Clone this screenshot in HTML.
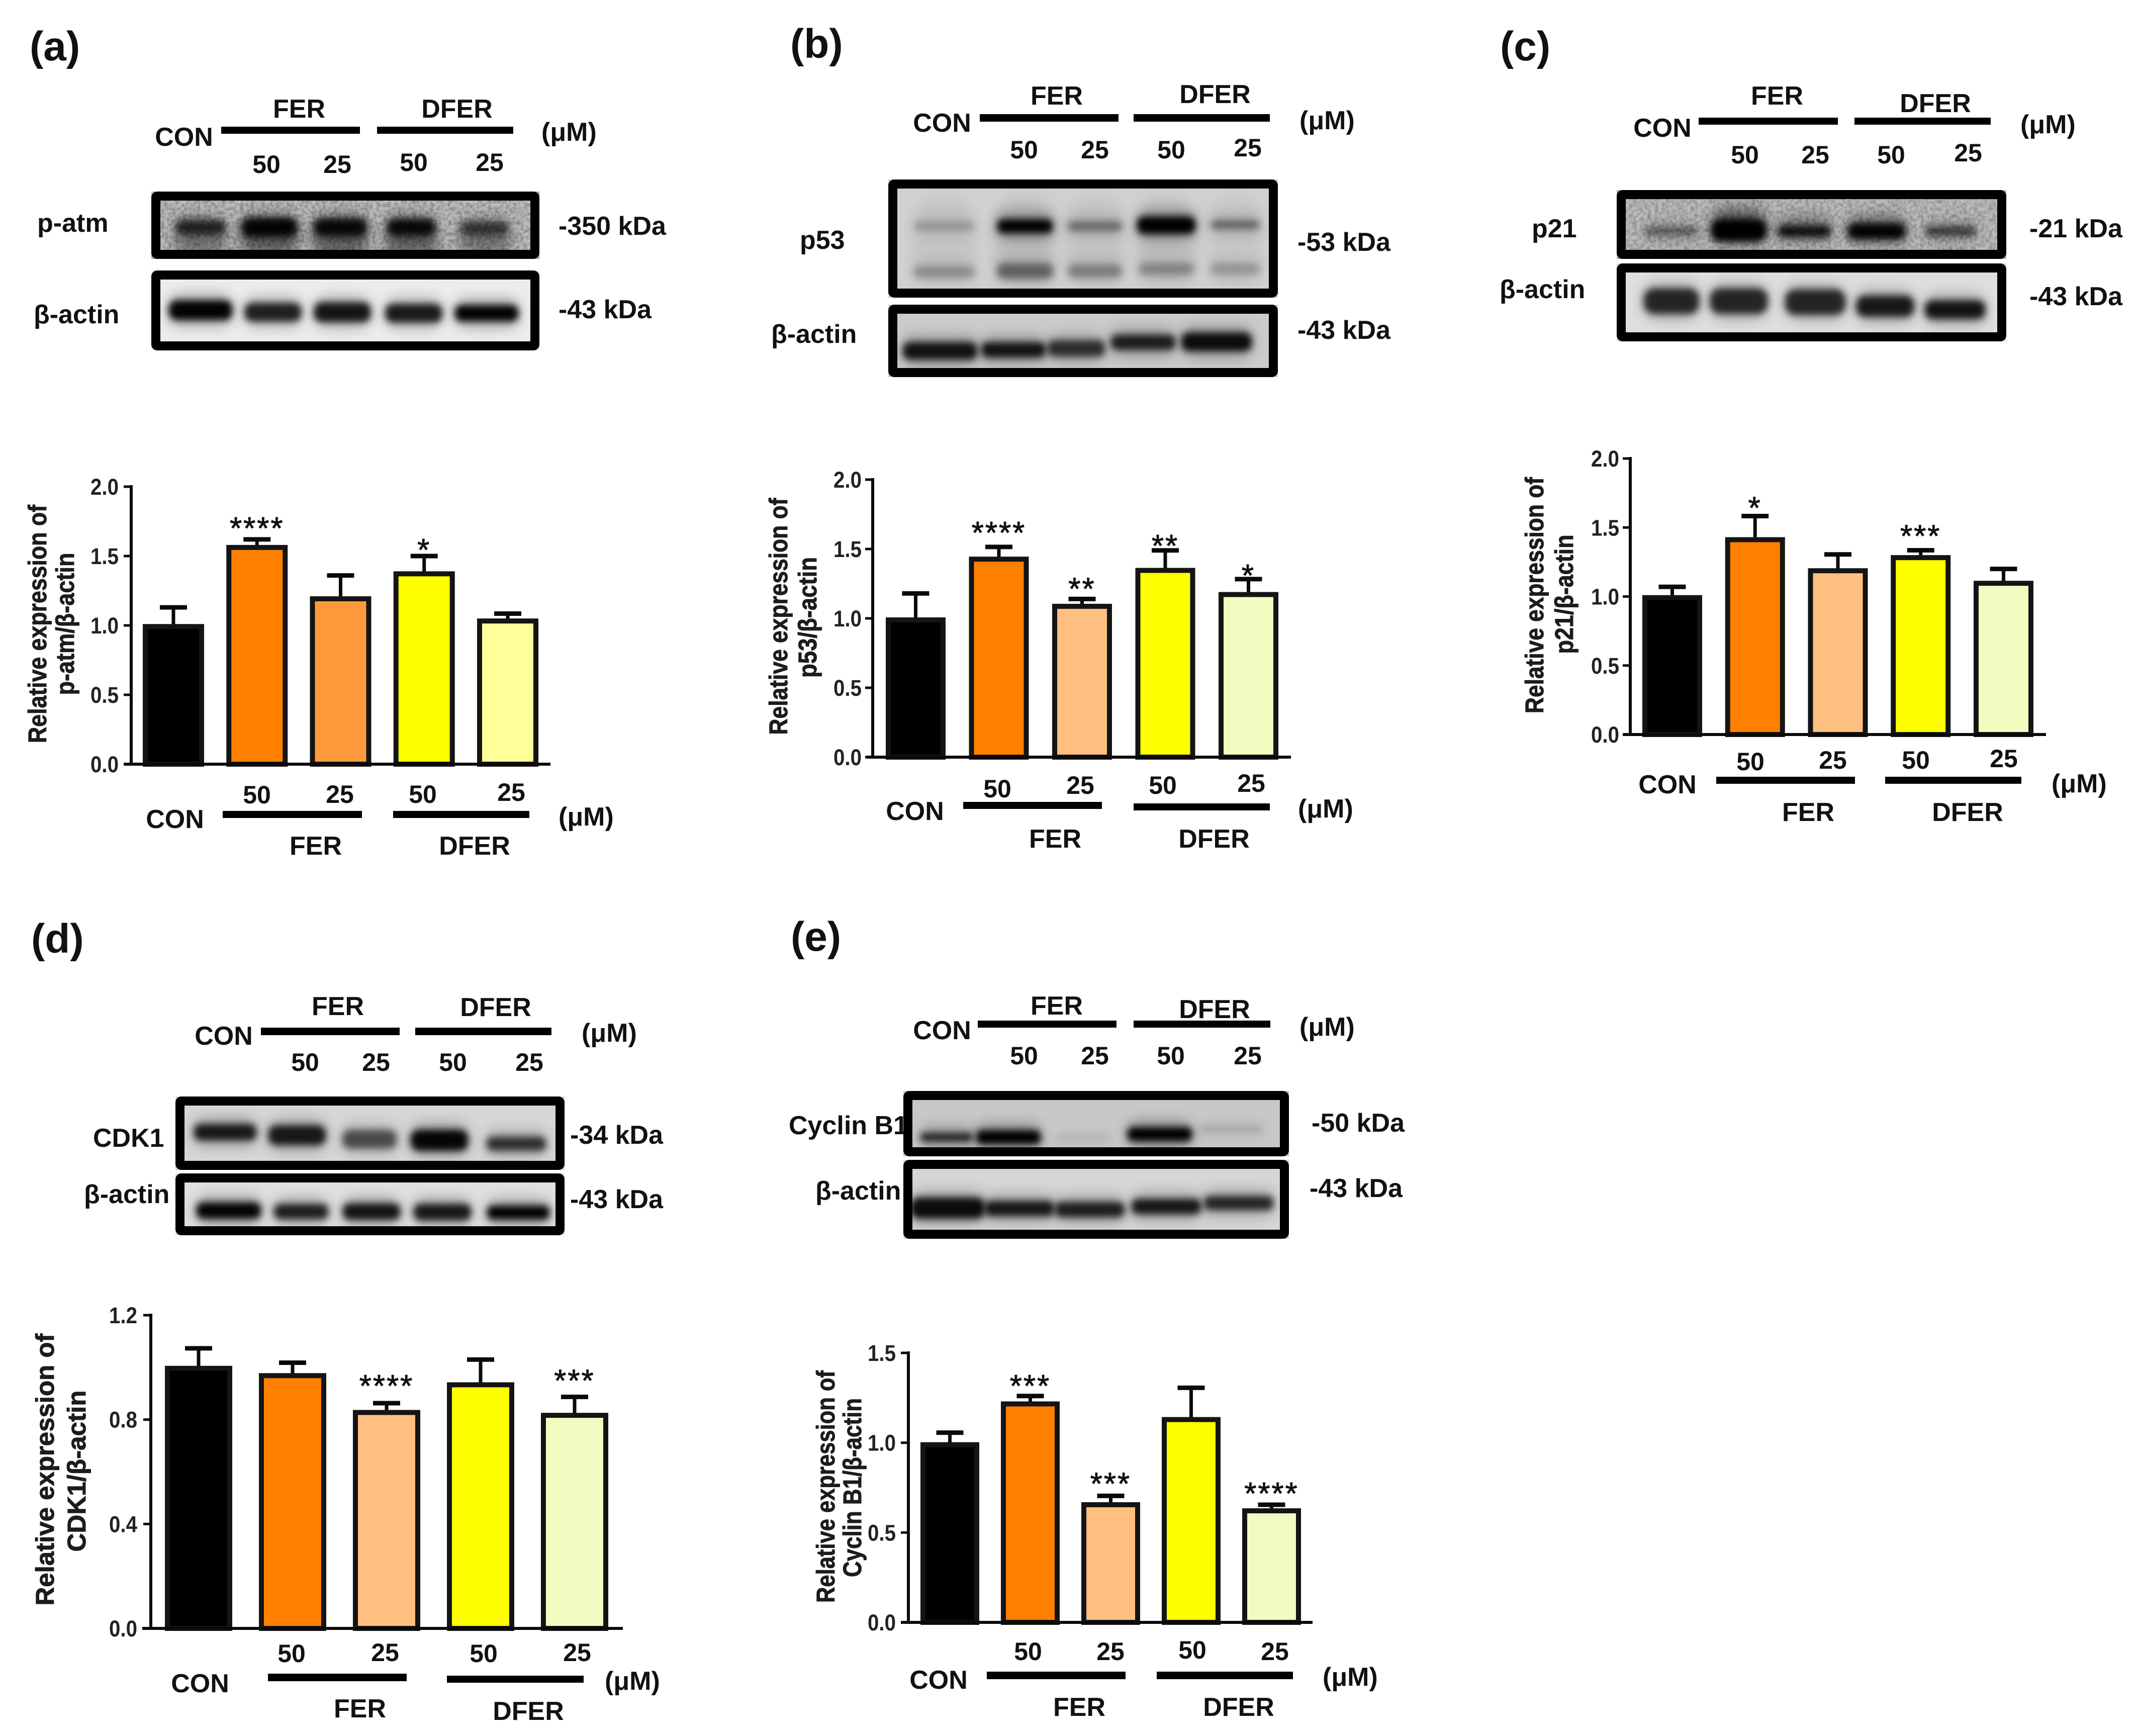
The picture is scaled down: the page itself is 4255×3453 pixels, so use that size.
<!DOCTYPE html>
<html lang="en">
<head>
<meta charset="utf-8">
<title>Western blot panels and relative expression bar charts</title>
<style>
html,body{margin:0;padding:0;background:#fff;}
body{width:4255px;height:3453px;overflow:hidden;position:relative;}
svg#figure{position:absolute;left:0;top:0;}
text{font-family:"Liberation Sans",sans-serif;font-weight:bold;fill:#111;}
.p{font-size:82px;}
.l{font-size:52px;}
.n{font-size:50px;text-anchor:middle;}
.c{text-anchor:middle;}
.t{font-size:51px;text-anchor:middle;fill:#1c1c1c;stroke:#1c1c1c;stroke-width:1px;}
.hb{fill:#000;}
</style>
</head>
<body>
<svg id="figure" xmlns="http://www.w3.org/2000/svg" width="4255" height="3453" viewBox="1 2 4255 3453">
<defs>
<filter id="bl" x="-30%" y="-150%" width="160%" height="400%"><feGaussianBlur stdDeviation="7"/></filter>
<filter id="smear" x="-30%" y="-60%" width="160%" height="220%"><feGaussianBlur stdDeviation="13"/></filter>
<filter id="grain" x="0" y="0" width="100%" height="100%"><feTurbulence type="fractalNoise" baseFrequency="0.14" numOctaves="2" seed="4"/><feColorMatrix type="matrix" values="0 0 0 0 0  0 0 0 0 0  0 0 0 0 0  1.3 0 0 0 -0.45"/></filter>
</defs>
<rect x="0" y="0" width="4270" height="3470" fill="#fff"/>

<!-- Panel a -->
<g>
<text class="p" x="60" y="122">(a)</text>
<text class="l c" x="596" y="236">FER</text>
<text class="l c" x="910" y="236">DFER</text>
<text class="l c" x="367" y="292">CON</text>
<rect class="hb" x="441" y="254" width="276" height="14"/>
<rect class="hb" x="751" y="254" width="271" height="14"/>
<text class="l" x="1078" y="282">(μM)</text>
<text class="n" x="531" y="346">50</text>
<text class="n" x="672" y="346">25</text>
<text class="n" x="824" y="342">50</text>
<text class="n" x="975" y="342">25</text>
<text class="l" x="75" y="463">p-atm</text>
<text class="l" x="68" y="645">β-actin</text>
<text class="l" x="1112" y="469">-350 kDa</text>
<text class="l" x="1112" y="635">-43 kDa</text>
<text class="n" x="512" y="1600">50</text>
<text class="n" x="677" y="1599">25</text>
<text class="n" x="842" y="1599">50</text>
<text class="n" x="1018" y="1595">25</text>
<text class="l c" x="349" y="1649">CON</text>
<rect class="hb" x="444" y="1615" width="277" height="14"/>
<rect class="hb" x="783" y="1615" width="271" height="14"/>
<text class="l" x="1112" y="1644">(μM)</text>
<text class="l c" x="629" y="1702">FER</text>
<text class="l c" x="945" y="1702">DFER</text>
<text class="t" transform="translate(93,1243) rotate(-90)" textLength="474" lengthAdjust="spacingAndGlyphs">Relative expression of</text>
<text class="t" transform="translate(148,1243) rotate(-90)" textLength="283" lengthAdjust="spacingAndGlyphs">p-atm/β-actin</text>
</g>

<!-- Panel b -->
<g>
<text class="p" x="1573" y="117">(b)</text>
<text class="l c" x="2103" y="210">FER</text>
<text class="l c" x="2418" y="207">DFER</text>
<text class="l c" x="1875" y="264">CON</text>
<rect class="hb" x="1950" y="229" width="276" height="15"/>
<rect class="hb" x="2256" y="229" width="271" height="15"/>
<text class="l" x="2586" y="259">(μM)</text>
<text class="n" x="2038" y="317">50</text>
<text class="n" x="2179" y="317">25</text>
<text class="n" x="2331" y="317">50</text>
<text class="n" x="2483" y="313">25</text>
<text class="l" x="1592" y="497">p53</text>
<text class="l" x="1535" y="684">β-actin</text>
<text class="l" x="2582" y="501">-53 kDa</text>
<text class="l" x="2582" y="676">-43 kDa</text>
<text class="n" x="1985" y="1588">50</text>
<text class="n" x="2150" y="1581">25</text>
<text class="n" x="2314" y="1581">50</text>
<text class="n" x="2490" y="1577">25</text>
<text class="l c" x="1821" y="1633">CON</text>
<rect class="hb" x="1917" y="1597" width="276" height="14"/>
<rect class="hb" x="2256" y="1600" width="271" height="14"/>
<text class="l" x="2583" y="1628">(μM)</text>
<text class="l c" x="2100" y="1688">FER</text>
<text class="l c" x="2416" y="1688">DFER</text>
<text class="t" transform="translate(1567,1228) rotate(-90)" textLength="471" lengthAdjust="spacingAndGlyphs">Relative expression of</text>
<text class="t" transform="translate(1625,1230) rotate(-90)" textLength="240" lengthAdjust="spacingAndGlyphs">p53/β-actin</text>
</g>

<!-- Panel c -->
<g>
<text class="p" x="2985" y="122">(c)</text>
<text class="l c" x="3536" y="210">FER</text>
<text class="l c" x="3851" y="225">DFER</text>
<text class="l c" x="3308" y="274">CON</text>
<rect class="hb" x="3380" y="236" width="277" height="14"/>
<rect class="hb" x="3690" y="236" width="271" height="14"/>
<text class="l" x="4020" y="267">(μM)</text>
<text class="n" x="3472" y="327">50</text>
<text class="n" x="3612" y="327">25</text>
<text class="n" x="3763" y="327">50</text>
<text class="n" x="3916" y="323">25</text>
<text class="l" x="3048" y="474">p21</text>
<text class="l" x="2984" y="595">β-actin</text>
<text class="l" x="4038" y="474">-21 kDa</text>
<text class="l" x="4038" y="609">-43 kDa</text>
<text class="n" x="3483" y="1534">50</text>
<text class="n" x="3647" y="1531">25</text>
<text class="n" x="3812" y="1531">50</text>
<text class="n" x="3987" y="1528">25</text>
<text class="l c" x="3318" y="1580">CON</text>
<rect class="hb" x="3415" y="1547" width="276" height="14"/>
<rect class="hb" x="3751" y="1547" width="271" height="14"/>
<text class="l" x="4082" y="1578">(μM)</text>
<text class="l c" x="3598" y="1635">FER</text>
<text class="l c" x="3915" y="1635">DFER</text>
<text class="t" transform="translate(3071,1186) rotate(-90)" textLength="470" lengthAdjust="spacingAndGlyphs">Relative expression of</text>
<text class="t" transform="translate(3130,1184) rotate(-90)" textLength="237" lengthAdjust="spacingAndGlyphs">p21/β-actin</text>
</g>

<!-- Panel d -->
<g>
<text class="p" x="63" y="1897">(d)</text>
<text class="l c" x="673" y="2021">FER</text>
<text class="l c" x="987" y="2023">DFER</text>
<text class="l c" x="446" y="2080">CON</text>
<rect class="hb" x="520" y="2046" width="276" height="15"/>
<rect class="hb" x="827" y="2046" width="271" height="15"/>
<text class="l" x="1158" y="2074">(μM)</text>
<text class="n" x="608" y="2132">50</text>
<text class="n" x="749" y="2132">25</text>
<text class="n" x="902" y="2132">50</text>
<text class="n" x="1054" y="2132">25</text>
<text class="l" x="186" y="2283">CDK1</text>
<text class="l" x="168" y="2395">β-actin</text>
<text class="l" x="1135" y="2277">-34 kDa</text>
<text class="l" x="1135" y="2405">-43 kDa</text>
<text class="n" x="581" y="3308">50</text>
<text class="n" x="767" y="3306">25</text>
<text class="n" x="963" y="3308">50</text>
<text class="n" x="1149" y="3306">25</text>
<text class="l c" x="399" y="3368">CON</text>
<rect class="hb" x="534" y="3331" width="276" height="15"/>
<rect class="hb" x="890" y="3335" width="272" height="14"/>
<text class="l" x="1204" y="3363">(μM)</text>
<text class="l c" x="717" y="3418">FER</text>
<text class="l c" x="1052" y="3423">DFER</text>
<text class="t" transform="translate(108,2925) rotate(-90)" textLength="541" lengthAdjust="spacingAndGlyphs">Relative expression of</text>
<text class="t" transform="translate(171,2928) rotate(-90)" textLength="321" lengthAdjust="spacingAndGlyphs">CDK1/β-actin</text>
</g>

<!-- Panel e -->
<g>
<text class="p" x="1574" y="1893">(e)</text>
<text class="l c" x="2103" y="2020">FER</text>
<text class="l c" x="2417" y="2027">DFER</text>
<text class="l c" x="1875" y="2069">CON</text>
<rect class="hb" x="1946" y="2032" width="276" height="14"/>
<rect class="hb" x="2256" y="2032" width="272" height="14"/>
<text class="l" x="2586" y="2062">(μM)</text>
<text class="n" x="2038" y="2119">50</text>
<text class="n" x="2179" y="2119">25</text>
<text class="n" x="2330" y="2119">50</text>
<text class="n" x="2483" y="2119">25</text>
<text class="l" x="1570" y="2258">Cyclin B1</text>
<text class="l" x="1623" y="2388">β-actin</text>
<text class="l" x="2610" y="2253">-50 kDa</text>
<text class="l" x="2606" y="2383">-43 kDa</text>
<text class="n" x="2046" y="3304">50</text>
<text class="n" x="2210" y="3304">25</text>
<text class="n" x="2373" y="3301">50</text>
<text class="n" x="2537" y="3304">25</text>
<text class="l c" x="1868" y="3361">CON</text>
<rect class="hb" x="1964" y="3327" width="276" height="15"/>
<rect class="hb" x="2302" y="3327" width="271" height="15"/>
<text class="l" x="2632" y="3355">(μM)</text>
<text class="l c" x="2148" y="3415">FER</text>
<text class="l c" x="2465" y="3415">DFER</text>
<text class="t" transform="translate(1661,2959) rotate(-90)" textLength="462" lengthAdjust="spacingAndGlyphs">Relative expression of</text>
<text class="t" transform="translate(1714,2961) rotate(-90)" textLength="356" lengthAdjust="spacingAndGlyphs">Cyclin B1/β-actin</text>
</g>

<g id="blots"></g>
<g id="charts"></g>
</svg>

<script>
// ---------- Chart data ----------
const categories = ['CON', 'FER-50', 'FER-25', 'DFER-50', 'DFER-25'];

const ticksA = ['0.0', '0.5', '1.0', '1.5', '2.0'];
const valuesA = [1.01, 1.58, 1.21, 1.39, 1.05];
const errorsA = [0.12, 0.04, 0.15, 0.11, 0.035];
const starsA = ['', '****', '', '*', ''];

const ticksB = ['0.0', '0.5', '1.0', '1.5', '2.0'];
const valuesB = [1.007, 1.445, 1.105, 1.364, 1.19];
const errorsB = [0.173, 0.07, 0.035, 0.126, 0.093];
const starsB = ['', '****', '**', '**', '*'];

const ticksC = ['0.0', '0.5', '1.0', '1.5', '2.0'];
const valuesC = [1.01, 1.43, 1.205, 1.30, 1.114];
const errorsC = [0.06, 0.153, 0.10, 0.035, 0.086];
const starsC = ['', '*', '', '***', ''];

const ticksD = ['0.0', '0.4', '0.8', '1.2'];
const valuesD = [1.006, 0.978, 0.837, 0.943, 0.826];
const errorsD = [0.067, 0.04, 0.026, 0.087, 0.061];
const starsD = ['', '', '****', '', '***'];

const ticksE = ['0.0', '0.5', '1.0', '1.5'];
const valuesE = [1.003, 1.23, 0.669, 1.143, 0.635];
const errorsE = [0.053, 0.03, 0.035, 0.163, 0.02];
const starsE = ['', '***', '***', '', '****'];

// ---------- Layout (separate from data) ----------
const NS = 'http://www.w3.org/2000/svg';
const fillsWarm = ['#000000', '#ff8000', '#ffbf80', '#ffff00', '#f3fcc0'];
const fillsA = ['#000000', '#ff8000', '#ff9a3c', '#ffff00', '#ffff99'];

const chartLayouts = [
  {id: 'a', ticks: ticksA, values: valuesA, errors: errorsA, stars: starsA, fills: fillsA,
   axisX: 262, axisEnd: 1096, axisStart: 248, yTop: 970, y0: 1522, barStart: 285, barStep: 166.25, barW: 122, labelRight: 237, gaps: [0, 36, 0, 26, 0]},
  {id: 'b', ticks: ticksB, values: valuesB, errors: errorsB, stars: starsB, fills: fillsWarm,
   axisX: 1737, axisEnd: 2569, axisStart: 1725, yTop: 956, y0: 1508, barStart: 1763, barStep: 165.5, barW: 119, labelRight: 1715, gaps: [0, 42, 34, 23, 21]},
  {id: 'c', ticks: ticksC, values: valuesC, errors: errorsC, stars: starsC, fills: fillsWarm,
   axisX: 3244, axisEnd: 4071, axisStart: 3230, yTop: 914, y0: 1463, barStart: 3268, barStep: 164.75, barW: 119, labelRight: 3222, gaps: [0, 30, 0, 42, 0]},
  {id: 'd', ticks: ticksD, values: valuesD, errors: errorsD, stars: starsD, fills: fillsWarm,
   axisX: 301, axisEnd: 1240, axisStart: 284, yTop: 2618, y0: 3241, barStart: 329, barStep: 187, barW: 134, labelRight: 274, gaps: [0, 0, 48, 0, 46]},
  {id: 'e', ticks: ticksE, values: valuesE, errors: errorsE, stars: starsE, fills: fillsWarm,
   axisX: 1808, axisEnd: 2612, axisStart: 1793, yTop: 2693, y0: 3229, barStart: 1832, barStep: 160, barW: 117, labelRight: 1783, gaps: [0, 34, 38, 0, 36]}
];

const chartsRoot = document.getElementById('charts');

function makeLine(parent, x1, y1, x2, y2, width, name) {
  const el = document.createElementNS(NS, 'line');
  el.setAttribute('x1', x1);
  el.setAttribute('y1', y1);
  el.setAttribute('x2', x2);
  el.setAttribute('y2', y2);
  el.setAttribute('stroke', '#0a0a0a');
  el.setAttribute('stroke-width', width);
  
  
  parent.appendChild(el);
  return el;
}

function drawChart(cfg) {
  const g = document.createElementNS(NS, 'g');
  
  
  chartsRoot.appendChild(g);

  const yMax = parseFloat(cfg.ticks[cfg.ticks.length - 1]);
  const yScale = v => cfg.y0 - (v / yMax) * (cfg.y0 - cfg.yTop);
  const xLeft = i => cfg.barStart + i * cfg.barStep;
  const stroke = 10;

  cfg.values.forEach((v, i) => {
    const cx = xLeft(i) + cfg.barW / 2;
    const top = yScale(v);
    const errTop = yScale(v + cfg.errors[i]);

    makeLine(g, cx, top + 2, cx, errTop, 7, 'error-bar-' + categories[i]);
    makeLine(g, cx - 27, errTop, cx + 27, errTop, 9, 'error-cap-' + categories[i]);

    const bar = document.createElementNS(NS, 'rect');
    bar.setAttribute('x', xLeft(i) + stroke / 2);
    bar.setAttribute('y', top + stroke / 2);
    bar.setAttribute('width', cfg.barW - stroke);
    bar.setAttribute('height', Math.max(0, cfg.y0 - top - stroke / 2));
    bar.setAttribute('fill', cfg.fills[i]);
    bar.setAttribute('stroke', '#141414');
    bar.setAttribute('stroke-width', stroke);
    
    
    g.appendChild(bar);

    if (cfg.stars[i]) {
      const star = document.createElementNS(NS, 'text');
      star.setAttribute('x', cx);
      star.setAttribute('y', errTop - cfg.gaps[i] + 35);
      star.setAttribute('text-anchor', 'middle');
      star.setAttribute('letter-spacing', '3');
      star.setAttribute('style', 'font-size:62px;font-weight:normal;stroke:#111;stroke-width:1px;');
      star.textContent = cfg.stars[i];
      
      
      g.appendChild(star);
    }
  });

  makeLine(g, cfg.axisX, cfg.yTop - 3, cfg.axisX, cfg.y0 + 3, 6, 'y-axis');
  makeLine(g, cfg.axisStart, cfg.y0, cfg.axisEnd, cfg.y0, 6, 'x-axis');

  cfg.ticks.forEach(t => {
    const y = yScale(parseFloat(t));
    makeLine(g, cfg.axisX - 15, y, cfg.axisX, y, 5, 'y-tick-' + t);
    const label = document.createElementNS(NS, 'text');
    label.setAttribute('x', cfg.labelRight);
    label.setAttribute('y', y + 16);
    label.setAttribute('text-anchor', 'end');
    label.setAttribute('textLength', '56');
    label.setAttribute('lengthAdjust', 'spacingAndGlyphs');
    label.setAttribute('style', 'font-size:45px;fill:#222;');
    label.textContent = t;
    
    
    g.appendChild(label);
  });
}
chartLayouts.forEach(drawChart);

// ---------- Western blot images (approximated with blurred bands) ----------
// band: [centre x, centre y, width, height, opacity]
const blotLayouts = [
  {name: 'p-atm', x: 302, y: 383, w: 772, h: 134, bg: '#bdbdbd', grain: 0.45,
   smear: [[400, 480, 105, 70, .3], [537, 480, 115, 70, .4], [678, 480, 110, 70, .4], [819, 480, 105, 70, .4], [965, 480, 105, 70, .3]],
   bands: [[400, 454, 88, 24, .7], [537, 454, 100, 32, .95], [678, 454, 95, 30, .9], [819, 454, 85, 28, .9], [965, 456, 85, 22, .55]]},
  {name: 'p-atm-actin', x: 302, y: 540, w: 772, h: 159, bg: '#ececec', grain: 0,
   smear: [],
   bands: [[400, 619, 116, 34, .98], [544, 623, 103, 32, .82], [682, 623, 103, 34, .88], [824, 625, 103, 32, .85], [969, 625, 116, 28, .98]]},
  {name: 'p53', x: 1768, y: 359, w: 775, h: 235, bg: '#d0d0d0', grain: 0,
   smear: [[1879, 480, 120, 170, .05], [2040, 480, 120, 170, .08], [2179, 480, 115, 170, .05], [2321, 480, 115, 170, .07], [2458, 480, 105, 170, .04]],
   bands: [[1879, 452, 108, 16, .2], [2040, 452, 100, 24, 1], [2179, 452, 98, 16, .4], [2321, 450, 106, 30, 1], [2458, 449, 86, 14, .45],
           [1879, 543, 112, 20, .24], [2040, 541, 102, 26, .42], [2179, 541, 98, 22, .3], [2321, 537, 100, 20, .26], [2458, 537, 88, 20, .2]]},
  {name: 'p53-actin', x: 1768, y: 608, w: 775, h: 144, bg: '#cbcbcb', grain: 0,
   smear: [],
   bands: [[1871, 700, 138, 30, .88], [2017, 698, 118, 26, .88], [2142, 695, 104, 28, .72], [2275, 683, 118, 26, .82], [2421, 682, 130, 32, .92]]},
  {name: 'p21', x: 3217, y: 380, w: 775, h: 137, bg: '#bcbcbc', grain: 0.4,
   smear: [[3460, 440, 100, 60, .3], [3590, 445, 100, 50, .1], [3734, 445, 110, 50, .1]],
   bands: [[3326, 462, 95, 14, .45], [3460, 460, 100, 38, 1], [3590, 462, 95, 20, .88], [3734, 462, 105, 28, .96], [3881, 462, 90, 16, .62]]},
  {name: 'p21-actin', x: 3217, y: 526, w: 775, h: 155, bg: '#dedede', grain: 0,
   smear: [],
   bands: [[3326, 601, 100, 44, .78], [3460, 601, 105, 44, .78], [3612, 603, 110, 44, .78], [3751, 611, 105, 36, .85], [3890, 618, 110, 32, .88]]},
  {name: 'cdk1', x: 350, y: 2183, w: 774, h: 146, bg: '#d6d6d6', grain: 0,
   smear: [],
   bands: [[449, 2254, 114, 28, .85], [592, 2260, 104, 34, .85], [736, 2268, 98, 32, .58], [875, 2270, 104, 36, .96], [1028, 2277, 108, 24, .72]]},
  {name: 'cdk1-actin', x: 350, y: 2336, w: 774, h: 123, bg: '#e0e0e0', grain: 0,
   smear: [],
   bands: [[456, 2410, 118, 28, .98], [600, 2412, 98, 26, .82], [740, 2412, 104, 28, .88], [881, 2413, 104, 28, .86], [1032, 2414, 114, 24, .98]]},
  {name: 'cyclin-b1', x: 1798, y: 2172, w: 767, h: 130, bg: '#c8c8c8', grain: 0,
   smear: [],
   bands: [[1884, 2264, 94, 14, .82], [2007, 2264, 118, 24, 1], [2155, 2266, 100, 14, .06], [2308, 2258, 118, 24, 1], [2451, 2248, 115, 12, .13]]},
  {name: 'cyclin-b1-actin', x: 1798, y: 2309, w: 767, h: 157, bg: '#d6d6d6', grain: 0,
   smear: [],
   bands: [[1886, 2405, 138, 36, .92], [2029, 2406, 128, 26, .86], [2169, 2408, 128, 26, .82], [2321, 2402, 128, 26, .86], [2465, 2395, 128, 24, .78]]}
];

const blotsRoot = document.getElementById('blots');

function addBand(parent, spec, filterId, name) {
  const el = document.createElementNS(NS, 'rect');
  el.setAttribute('x', spec[0] - spec[2] / 2);
  el.setAttribute('y', spec[1] - spec[3] / 2);
  el.setAttribute('width', spec[2]);
  el.setAttribute('height', spec[3]);
  el.setAttribute('rx', Math.min(spec[2], spec[3]) / 2.5);
  el.setAttribute('fill', '#000');
  el.setAttribute('opacity', spec[4]);
  el.setAttribute('filter', 'url(#' + filterId + ')');
  
  
  parent.appendChild(el);
}

blotLayouts.forEach(b => {
  const group = document.createElementNS(NS, 'g');
  
  
  blotsRoot.appendChild(group);

  const inner = document.createElementNS(NS, 'svg');
  inner.setAttribute('x', b.x);
  inner.setAttribute('y', b.y);
  inner.setAttribute('width', b.w);
  inner.setAttribute('height', b.h);
  inner.setAttribute('viewBox', b.x + ' ' + b.y + ' ' + b.w + ' ' + b.h);
  
  
  group.appendChild(inner);

  const bg = document.createElementNS(NS, 'rect');
  bg.setAttribute('x', b.x);
  bg.setAttribute('y', b.y);
  bg.setAttribute('width', b.w);
  bg.setAttribute('height', b.h);
  bg.setAttribute('fill', b.bg);
  
  
  inner.appendChild(bg);

  b.smear.forEach(s => addBand(inner, s, 'smear', 'lane-smear'));
  // soft halo around each band, then a thicker, wider core band
  b.bands.forEach(s => addBand(inner, [s[0], s[1], s[2] + 14, s[3] + 30, s[4] * 0.3], 'smear', 'band-halo'));
  b.bands.forEach(s => addBand(inner, [s[0], s[1], s[2] + 10, s[3] * 1.15, s[4]], 'bl', 'protein-band'));

  if (b.grain) {
    const noise = document.createElementNS(NS, 'rect');
    noise.setAttribute('x', b.x);
    noise.setAttribute('y', b.y);
    noise.setAttribute('width', b.w);
    noise.setAttribute('height', b.h);
    noise.setAttribute('filter', 'url(#grain)');
    noise.setAttribute('opacity', b.grain);
    
    
    inner.appendChild(noise);
  }

  const frame = document.createElementNS(NS, 'rect');
  frame.setAttribute('x', b.x + 9);
  frame.setAttribute('y', b.y + 9);
  frame.setAttribute('width', b.w - 18);
  frame.setAttribute('height', b.h - 18);
  frame.setAttribute('rx', 3);
  frame.setAttribute('fill', 'none');
  frame.setAttribute('stroke', '#000');
  frame.setAttribute('stroke-width', 18);
  frame.setAttribute('stroke-linejoin', 'round');
  
  
  group.appendChild(frame);
});
</script>
</body>
</html>
